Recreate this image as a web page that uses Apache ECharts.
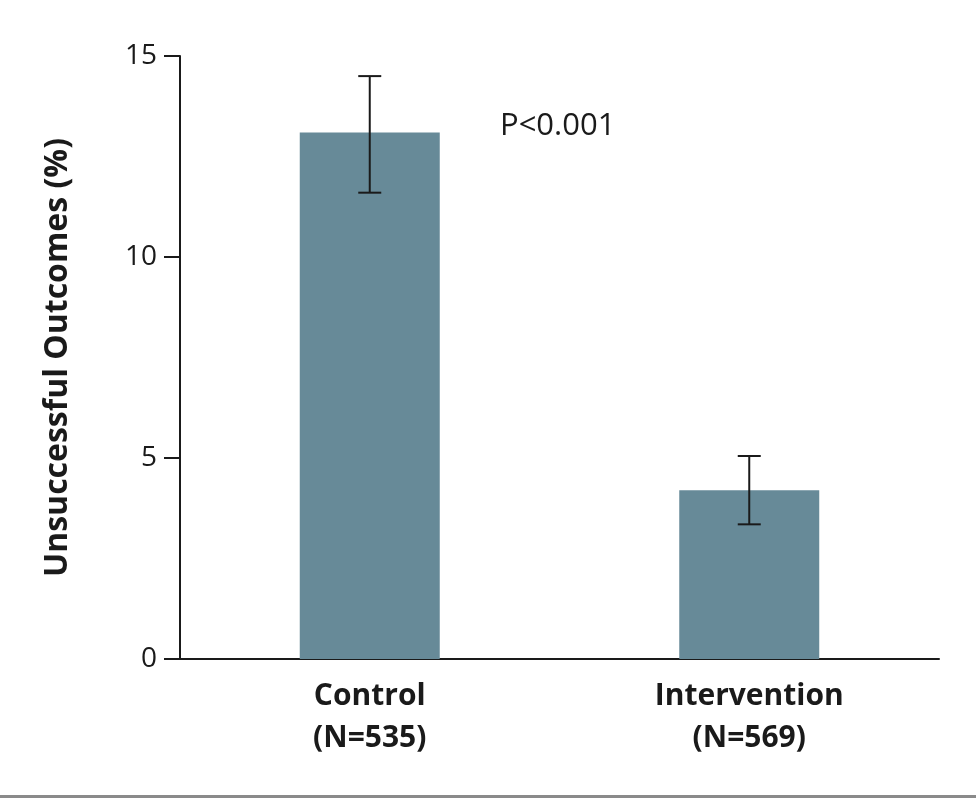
<!DOCTYPE html>
<html>
<head>
<meta charset="utf-8">
<script src="https://cdn.jsdelivr.net/npm/echarts@6/dist/echarts.min.js"></script>
<style>html,body{margin:0;padding:0;background:#fff;}#c{width:976px;height:798px;}</style>
</head>
<body>
<div id="c"></div>
<script>
const categories = ['Control\n(N=535)', 'Intervention\n(N=569)'];
const values = [13.1, 4.2];
const upper = [14.5, 5.05];
const lower = [11.6, 3.35];
const yTicks = [0, 5, 10, 15];
const pText = 'P<0.001';

const chart = echarts.init(document.getElementById('c'));
const errData = categories.map((c, i) => [i, lower[i], upper[i]]);
chart.setOption({
  animation: false,
  grid: { left: 180, right: 37, top: 56, bottom: 139 },
  xAxis: {
    type: 'category',
    data: categories,
    axisLine: { lineStyle: { color: '#1a1a1a', width: 2 } },
    axisTick: { show: false },
    axisLabel: { fontFamily: 'Open Sans', fontWeight: 'bold', fontSize: 30, color: '#1a1a1a', lineHeight: 42, margin: 16 }
  },
  yAxis: {
    type: 'value', min: 0, max: 15, interval: 5,
    name: 'Unsuccessful Outcomes (%)',
    nameLocation: 'middle', nameGap: 106,
    nameTextStyle: { fontFamily: 'Open Sans', fontWeight: 'bold', fontSize: 32, color: '#1a1a1a' },
    axisLine: { show: true, lineStyle: { color: '#1a1a1a', width: 2 } },
    axisTick: { show: true, inside: false, length: 16, lineStyle: { color: '#1a1a1a', width: 2 } },
    axisLabel: { fontFamily: 'Open Sans', fontSize: 28, color: '#1a1a1a', margin: 23,
      formatter: v => yTicks.includes(v) ? String(v) : '' },
    splitLine: { show: false }
  },
  series: [
    { type: 'bar', data: values, barWidth: 140, itemStyle: { color: '#678a98' } },
    { type: 'custom', data: errData, z: 10,
      renderItem: function (params, api) {
        const x = api.value(0);
        const lo = api.coord([x, api.value(1)]);
        const hi = api.coord([x, api.value(2)]);
        const hw = 11.5;
        const st = { stroke: '#1a1a1a', lineWidth: 2 };
        return { type: 'group', children: [
          { type: 'line', shape: { x1: lo[0], y1: lo[1], x2: hi[0], y2: hi[1] }, style: st },
          { type: 'line', shape: { x1: lo[0] - hw, y1: lo[1], x2: lo[0] + hw, y2: lo[1] }, style: st },
          { type: 'line', shape: { x1: hi[0] - hw, y1: hi[1], x2: hi[0] + hw, y2: hi[1] }, style: st }
        ]};
      }
    }
  ],
  graphic: [
    { type: 'text', left: 500, top: 111, style: { text: pText, fontFamily: 'Open Sans', fontSize: 31, fill: '#1a1a1a' } },
    { type: 'rect', left: 0, top: 795, shape: { width: 976, height: 3 }, style: { fill: '#8a8a8a' } }
  ]
});
</script>
</body>
</html>
